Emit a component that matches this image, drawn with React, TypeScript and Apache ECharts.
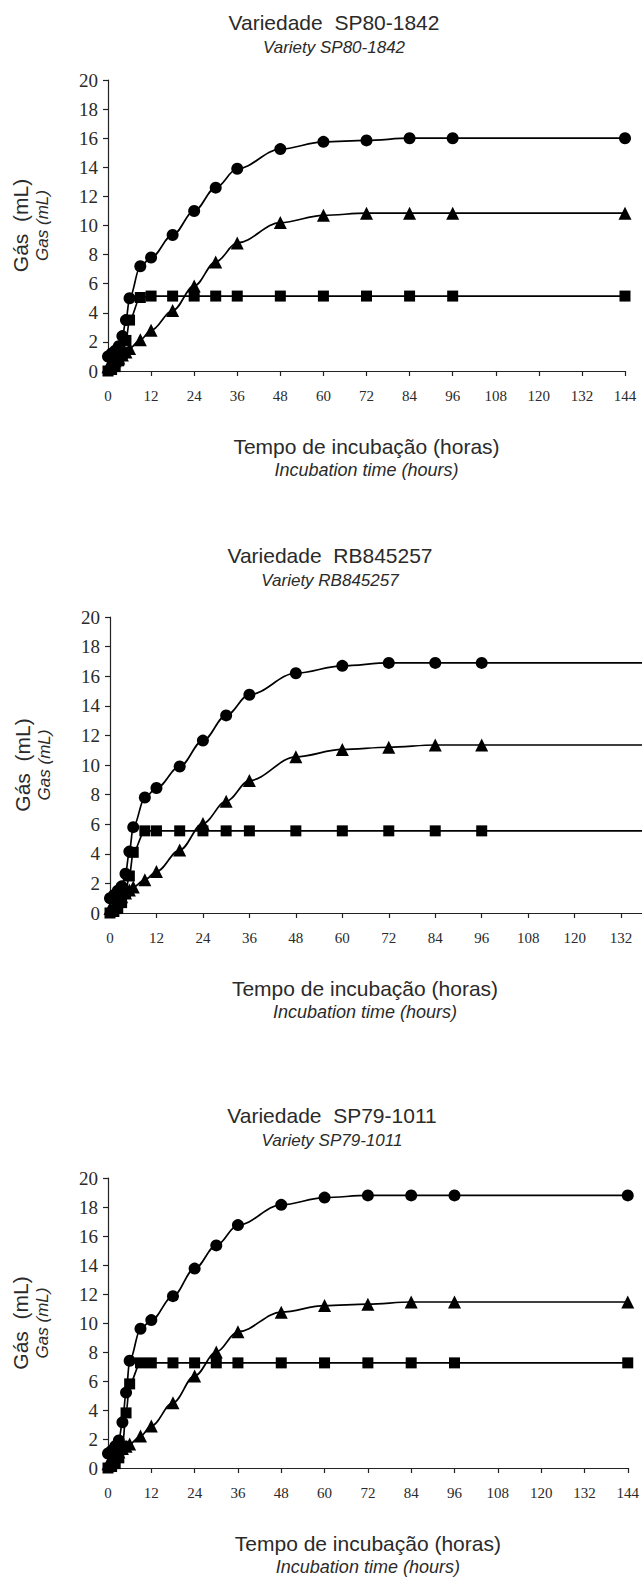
import React, { useEffect, useRef } from "react";
import * as echarts from "echarts";

// Incubation times (hours)
const hours = [0, 1, 2, 3, 4, 5, 6, 9, 12, 18, 24, 30, 36, 48, 60, 72, 84, 96, 144];

// Panel titles
const titlesPt = ["Variedade  SP80-1842", "Variedade  RB845257", "Variedade  SP79-1011"];
const titlesEn = ["Variety SP80-1842", "Variety RB845257", "Variety SP79-1011"];

// SP80-1842
const sp80Circle = [1.0, 1.2, 1.4, 1.7, 2.4, 3.5, 5.0, 7.2, 7.8, 9.35, 11.0, 12.6, 13.9, 15.25, 15.75, 15.85, 16.0, 16.0, 16.0];
const sp80Square = [0, 0.1, 0.3, 0.7, 1.2, 2.1, 3.5, 5.05, 5.15, 5.15, 5.15, 5.15, 5.15, 5.15, 5.15, 5.15, 5.15, 5.15, 5.15];
const sp80Triangle = [0.3, 0.5, 0.7, 0.9, 1.1, 1.3, 1.55, 2.15, 2.8, 4.15, 5.85, 7.5, 8.8, 10.2, 10.7, 10.85, 10.85, 10.85, 10.85];

// RB845257
const rbCircle = [1.0, 1.2, 1.5, 1.8, 2.65, 4.15, 5.8, 7.8, 8.45, 9.9, 11.65, 13.35, 14.75, 16.2, 16.7, 16.9, 16.9, 16.9, 16.9];
const rbSquare = [0, 0.1, 0.3, 0.7, 1.4, 2.5, 4.1, 5.55, 5.55, 5.55, 5.55, 5.55, 5.55, 5.55, 5.55, 5.55, 5.55, 5.55, 5.55];
const rbTriangle = [0.3, 0.5, 0.8, 1.1, 1.35, 1.55, 1.75, 2.25, 2.8, 4.25, 6.05, 7.55, 8.95, 10.55, 11.05, 11.2, 11.35, 11.35, 11.35];

// SP79-1011
const spCircle = [1.0, 1.2, 1.5, 1.9, 3.15, 5.2, 7.4, 9.6, 10.2, 11.85, 13.75, 15.35, 16.75, 18.15, 18.65, 18.8, 18.8, 18.8, 18.8];
const spSquare = [0, 0.1, 0.3, 0.7, 1.5, 3.8, 5.8, 7.25, 7.25, 7.25, 7.25, 7.25, 7.25, 7.25, 7.25, 7.25, 7.25, 7.25, 7.25];
const spTriangle = [0.3, 0.5, 0.8, 1.1, 1.35, 1.5, 1.65, 2.2, 2.9, 4.5, 6.35, 8.0, 9.4, 10.75, 11.2, 11.3, 11.45, 11.45, 11.45];

const panels = [
  { circle: sp80Circle, square: sp80Square, triangle: sp80Triangle },
  { circle: rbCircle, square: rbSquare, triangle: rbTriangle },
  { circle: spCircle, square: spSquare, triangle: spTriangle },
];

// visible x range of each panel (the middle panel is cut at the page edge)
const xMax = [144, 137.4, 144];

const yName = "{a|Gás  (mL)}\n{b|Gas (mL)}";
const xName = "{a|Tempo de incubação (horas)}\n{b|Incubation time (hours)}";

// layout (px)
const W = 642;
const H = 1581;
const grids = [
  { left: 108, right: 17, top: 80, height: 291 },
  { left: 110, right: 0, top: 617, height: 296 },
  { left: 108, right: 9, top: 1178, height: 290 },
];
const titleY = [22, 555, 1115];
const titleX = [334, 330, 332];
const xNamePad = [0, 22, 0];

const SANS = "Liberation Sans";
const SERIF = "Liberation Serif";
const TXT = "#2a2a2a";

export default function App() {
  const ref = useRef<HTMLDivElement>(null);
  useEffect(() => {
    if (!ref.current) return;
    const chart = echarts.init(ref.current, undefined, { renderer: "svg" });

    const grid: any[] = [];
    const xAxis: any[] = [];
    const yAxis: any[] = [];
    const series: any[] = [];
    const graphic: any[] = [];

    panels.forEach((p, i) => {
      grid.push({ ...grids[i], containLabel: false });
      xAxis.push({
        type: "value",
        gridIndex: i,
        min: 0,
        max: xMax[i],
        interval: 12,
        axisLine: { show: true, lineStyle: { color: "#222", width: 1.2 } },
        axisTick: { show: true, length: 5, lineStyle: { color: "#222", width: 1.2 } },
        splitLine: { show: false },
        axisLabel: {
          fontFamily: SERIF,
          fontSize: 15,
          color: TXT,
          margin: 17,
          showMaxLabel: xMax[i] === 144,
        },
        name: xName,
        nameLocation: "middle",
        nameGap: 63,
        nameTextStyle: {
          padding: [0, xNamePad[i], 0, 0],
          rich: {
            a: { fontFamily: SANS, fontSize: 21, color: TXT, lineHeight: 25 },
            b: { fontFamily: SANS, fontSize: 18, fontStyle: "italic", color: TXT, lineHeight: 22 },
          },
        },
      });
      yAxis.push({
        type: "value",
        gridIndex: i,
        min: 0,
        max: 20,
        interval: 2,
        axisLine: { show: true, lineStyle: { color: "#222", width: 1.2 } },
        axisTick: { show: true, length: 5, lineStyle: { color: "#222", width: 1.2 } },
        splitLine: { show: false },
        axisLabel: { fontFamily: SERIF, fontSize: 19, color: TXT, margin: 10 },
        name: yName,
        nameLocation: "middle",
        nameRotate: 90,
        nameGap: 56,
        nameTextStyle: {
          rich: {
            a: { fontFamily: SANS, fontSize: 21, color: TXT, lineHeight: 24 },
            b: { fontFamily: SANS, fontSize: 17, fontStyle: "italic", color: TXT, lineHeight: 20 },
          },
        },
      });
      const common = {
        type: "line",
        xAxisIndex: i,
        yAxisIndex: i,
        smooth: 0.35,
        smoothMonotone: "x",
        lineStyle: { color: "#000", width: 1.7 },
        itemStyle: { color: "#000" },
      };
      series.push({ ...common, name: "circle", symbol: "circle", symbolSize: 12, data: hours.map((h, k) => [h, p.circle[k]]) });
      series.push({ ...common, name: "square", symbol: "rect", symbolSize: 11, data: hours.map((h, k) => [h, p.square[k]]) });
      series.push({ ...common, name: "triangle", symbol: "triangle", symbolSize: 13, data: hours.map((h, k) => [h, p.triangle[k]]) });

      graphic.push({
        type: "text",
        x: titleX[i],
        y: titleY[i],
        style: { text: titlesPt[i], fill: TXT, font: `21px "${SANS}"`, textAlign: "center", textVerticalAlign: "middle" },
      });
      graphic.push({
        type: "text",
        x: titleX[i],
        y: titleY[i] + 25,
        style: { text: titlesEn[i], fill: TXT, font: `italic 17px "${SANS}"`, textAlign: "center", textVerticalAlign: "middle" },
      });
    });

    chart.setOption({
      animation: false,
      backgroundColor: "#fff",
      grid,
      xAxis,
      yAxis,
      series,
      graphic,
    });
    return () => chart.dispose();
  }, []);

  return (
    <div
      ref={ref}
      style={{ position: "absolute", left: 0, top: 0, width: W, height: H, overflow: "hidden" }}
    />
  );
}
